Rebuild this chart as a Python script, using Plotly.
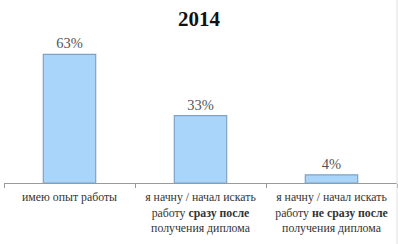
import plotly.graph_objects as go

categories = [
    "имею опыт работы",
    "я начну / начал искать<br>работу <b>сразу после</b><br>получения диплома",
    "я начну / начал искать<br>работу <b>не сразу после</b><br>получения диплома",
]
values = [63, 33, 4]
value_labels = ["63%", "33%", "4%"]

SERIF = "Liberation Serif, Times New Roman, serif"

fig = go.Figure()
fig.add_trace(go.Bar(
    x=categories,
    y=values,
    text=value_labels,
    textposition="outside",
    textfont=dict(family=SERIF, size=14.5, color="#555555"),
    cliponaxis=False,
    width=0.4,
    marker=dict(color="#a9d5fb", line=dict(color="#7fa3c8", width=1.2)),
))

fig.update_layout(
    width=398, height=244,
    margin=dict(l=4, r=1, t=40, b=61),
    paper_bgcolor="white", plot_bgcolor="white",
    showlegend=False,
    font=dict(family=SERIF),
    title=dict(text="<b>2014</b>", x=0.5, xanchor="center", y=0.925, yanchor="middle",
               font=dict(family=SERIF, size=21, color="#111111")),
    xaxis=dict(
        type="category",
        showline=True, linecolor="#9a9a9a", linewidth=1,
        ticks="outside", tickson="boundaries", ticklen=4, tickcolor="#9a9a9a",
        tickfont=dict(family=SERIF, size=11.8, color="#333333"),
        ticklabelstandoff=3,
        showgrid=False,
        tickangle=0,
    ),
    yaxis=dict(range=[0, 70], visible=False, showgrid=False),
    shapes=[
        dict(type="line", xref="paper", yref="paper", x0=1, x1=1, y0=-0.5, y1=1.3,
             line=dict(color="#e0e0e0", width=1)),
    ],
)

fig.write_html("out.html")
